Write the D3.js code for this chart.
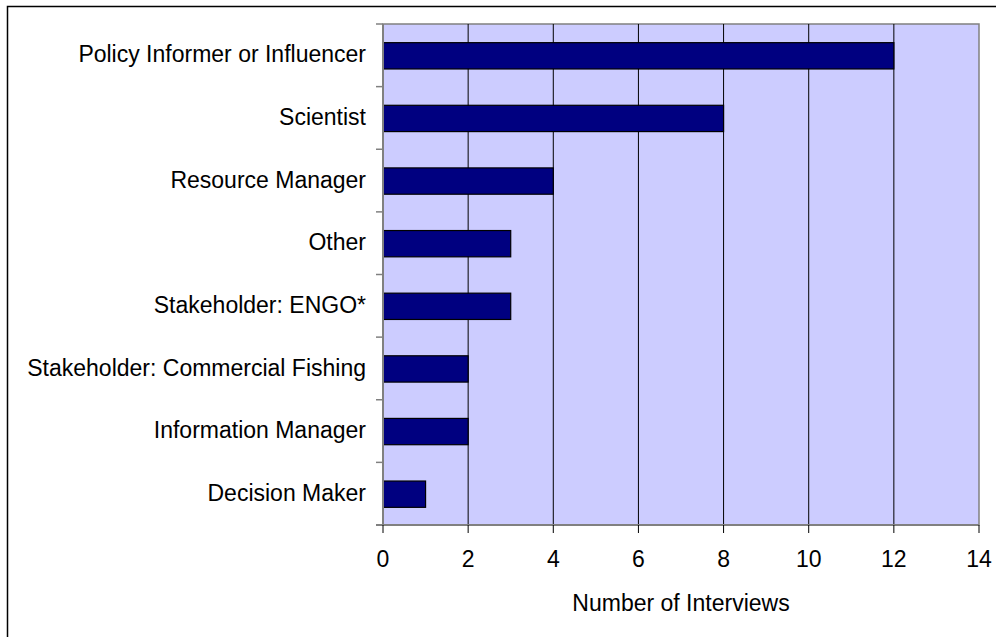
<!DOCTYPE html>
<html>
<head>
<meta charset="utf-8">
<style>
  body { margin: 0; background: white; }
  svg { display: block; font-family: "Liberation Sans", Arial, sans-serif; }
</style>
</head>
<body>
<div id="chart"></div>
<script src="https://d3js.org/d3.v7.min.js"></script>
<script>
var categories = ["Policy Informer or Influencer", "Scientist", "Resource Manager", "Other",
                  "Stakeholder: ENGO*", "Stakeholder: Commercial Fishing", "Information Manager", "Decision Maker"];
var interviews = [12, 8, 4, 3, 3, 2, 2, 1];
var xTicks = [0, 2, 4, 6, 8, 10, 12, 14];

var W = 996, H = 637;
var margin = {left: 383, right: 17, top: 24, bottom: 112};
var width = W - margin.left - margin.right,
    height = H - margin.top - margin.bottom;
var fs = 23;

var svg = d3.select("#chart").append("svg").attr("width", W).attr("height", H);

// outer frame (runs off right/bottom)
svg.append("rect").attr("x", 7.5).attr("y", 6.5).attr("width", 1100).attr("height", 800)
   .attr("fill", "none").attr("stroke", "#000").attr("stroke-width", 1.5);

var g = svg.append("g").attr("transform", "translate(" + margin.left + "," + margin.top + ")");

var x = d3.scaleLinear().domain([0, 14]).range([0, width]);
var y = d3.scaleBand().domain(categories).range([0, height]).paddingInner(0.58).paddingOuter(0.29);
var band = d3.scaleBand().domain(categories).range([0, height]);

g.append("rect").attr("width", width).attr("height", height)
  .attr("fill", "#ccccff").attr("stroke", "#808080").attr("stroke-width", 1.5);

g.selectAll(".grid").data(xTicks.slice(1, -1)).join("line")
  .attr("x1", d => x(d)).attr("x2", d => x(d)).attr("y1", 0).attr("y2", height)
  .attr("stroke", "#000").attr("stroke-width", 1);

g.selectAll(".bar").data(interviews).join("rect")
  .attr("x", x(0)).attr("y", (d, i) => y(categories[i]) + 0.5)
  .attr("width", d => x(d) - x(0)).attr("height", y.bandwidth())
  .attr("fill", "#000080").attr("stroke", "#000").attr("stroke-width", 1.2);

// left axis line and category ticks
g.append("line").attr("x1", 0).attr("x2", 0).attr("y1", 0).attr("y2", height)
  .attr("stroke", "#808080").attr("stroke-width", 2);
var bounds = categories.map(c => band(c)).concat([height]);
g.selectAll(".ytick").data(bounds).join("line")
  .attr("x1", -7).attr("x2", 0).attr("y1", d => d).attr("y2", d => d)
  .attr("stroke", "#808080").attr("stroke-width", 1.5);

g.selectAll(".ylab").data(categories).join("text")
  .attr("x", -17).attr("y", d => band(d) + band.bandwidth() / 2 + 1)
  .attr("text-anchor", "end").attr("dominant-baseline", "middle")
  .attr("font-size", fs).attr("fill", "#000").text(d => d);

// bottom axis
g.append("line").attr("x1", -7).attr("x2", width).attr("y1", height).attr("y2", height)
  .attr("stroke", "#808080").attr("stroke-width", 2);
g.selectAll(".xtick").data(xTicks).join("line")
  .attr("x1", d => x(d)).attr("x2", d => x(d)).attr("y1", height).attr("y2", height + 8)
  .attr("stroke", "#000").attr("stroke-width", 1);
g.selectAll(".xlab").data(xTicks).join("text")
  .attr("x", d => x(d)).attr("y", height + 42)
  .attr("text-anchor", "middle").attr("font-size", fs).attr("fill", "#000").text(d => d);

g.append("text").attr("x", width / 2).attr("y", height + 86)
  .attr("text-anchor", "middle").attr("font-size", fs).attr("fill", "#000")
  .text("Number of Interviews");
</script>
</body>
</html>
